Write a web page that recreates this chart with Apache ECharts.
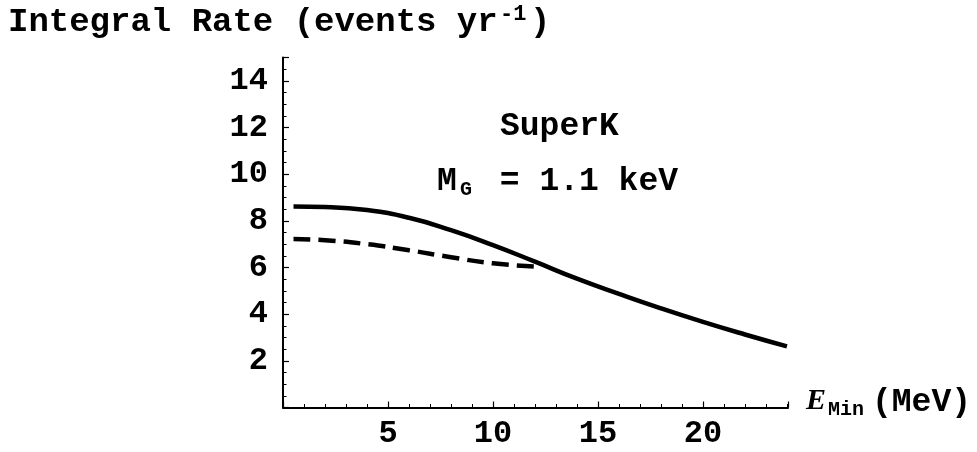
<!DOCTYPE html>
<html>
<head>
<meta charset="utf-8">
<script src="https://cdn.jsdelivr.net/npm/echarts@6/dist/echarts.min.js"></script>
<style>
  html, body { margin: 0; padding: 0; background: #fff; }
  #main { width: 977px; height: 452px; }
</style>
</head>
<body>
<div id="main"></div>
<script>
// 实线：E_min (MeV) 对应的积分事件率
const solidE = [0.5, 2, 4, 6, 8, 10, 12, 14, 16, 18, 20, 22, 24]
const solidRate = [8.61, 8.59, 8.46, 8.13, 7.6, 6.96, 6.25, 5.52, 4.87, 4.25, 3.67, 3.13, 2.62]

// 虚线
const dashE = [0.5, 2, 4, 6, 8, 10, 12]
const dashRate = [7.22, 7.17, 7.0, 6.74, 6.44, 6.18, 6.04]

const mono = '"Liberation Mono", "DejaVu Sans Mono", monospace'

const myChart = echarts.init(document.querySelector('#main'))

const axisCommon = {
  type: 'value',
  axisLine: { onZero: false, lineStyle: { color: '#000', width: 2 } },
  axisTick: { inside: true, length: 6, lineStyle: { color: '#000', width: 1.2 } },
  minorTick: { show: true, length: 3.5, lineStyle: { color: '#000', width: 1 } },
  splitLine: { show: false },
  minorSplitLine: { show: false },
}

const option = {
  animation: false,
  backgroundColor: '#fff',
  grid: {
    left: 283,
    right: 189,
    top: 57.5,
    bottom: 44.5,
  },
  xAxis: {
    ...axisCommon,
    min: 0,
    max: 24.05,
    interval: 5,
    minorTick: { ...axisCommon.minorTick, splitNumber: 5 },
    axisLabel: {
      showMinLabel: false,
      showMaxLabel: false,
      color: '#000',
      fontFamily: mono,
      fontWeight: 'bold',
      fontSize: 32,
      margin: 10,
    },
  },
  yAxis: {
    ...axisCommon,
    min: 0,
    max: 15,
    interval: 2,
    minorTick: { ...axisCommon.minorTick, splitNumber: 4 },
    axisLabel: {
      showMinLabel: false,
      showMaxLabel: false,
      color: '#000',
      fontFamily: mono,
      fontWeight: 'bold',
      fontSize: 32,
      margin: 15,
    },
  },
  series: [
    {
      type: 'line',
      data: solidE.map((e, i) => [e, solidRate[i]]),
      smooth: 0.5,
      showSymbol: false,
      lineStyle: { color: '#000', width: 4.5 },
    },
    {
      type: 'line',
      data: dashE.map((e, i) => [e, dashRate[i]]),
      smooth: 0.5,
      showSymbol: false,
      lineStyle: { color: '#000', width: 4.5, type: [17, 8] },
    },
  ],
  graphic: [
    // 纵轴标题
    { type: 'text', left: 8, top: 5, style: { text: 'Integral Rate (events yr', font: 'bold 34px ' + mono, fill: '#000' } },
    { type: 'text', left: 500, top: 3, style: { text: '-1', font: 'bold 22px ' + mono, fill: '#000' } },
    { type: 'text', left: 530, top: 5, style: { text: ')', font: 'bold 34px ' + mono, fill: '#000' } },
    // 注释
    { type: 'text', left: 500, top: 110, style: { text: 'SuperK', font: 'bold 33px ' + mono, fill: '#000' } },
    { type: 'text', left: 437, top: 165, style: { text: 'M', font: 'bold 33px ' + mono, fill: '#000' } },
    { type: 'text', left: 460, top: 180, style: { text: 'G', font: 'bold 20px ' + mono, fill: '#000' } },
    { type: 'text', left: 480, top: 165, style: { text: ' = 1.1 keV', font: 'bold 33px ' + mono, fill: '#000' } },
    // 横轴标题
    { type: 'text', left: 806, top: 386, style: { text: 'E', font: 'italic bold 30px "Liberation Serif", serif', fill: '#000' } },
    { type: 'text', left: 828, top: 400, style: { text: 'Min', font: 'bold 20px ' + mono, fill: '#000' } },
    { type: 'text', left: 872, top: 386, style: { text: '(MeV)', font: 'bold 33px ' + mono, fill: '#000' } },
  ],
}

myChart.setOption(option)
</script>
</body>
</html>
